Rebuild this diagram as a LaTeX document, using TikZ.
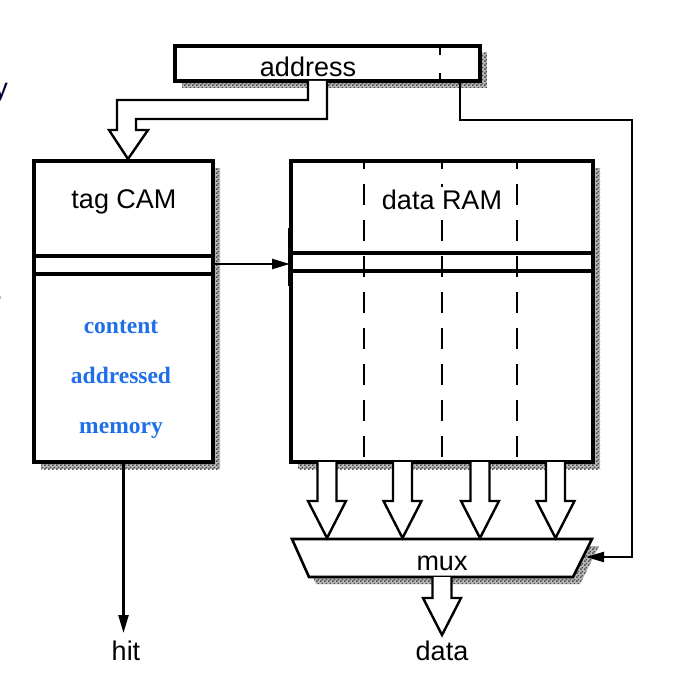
\documentclass[tikz,border=0pt]{standalone}
\usepackage{fontspec}
\setmainfont{Liberation Sans}
\newfontfamily\camserif{Liberation Serif}
\usetikzlibrary{arrows.meta,patterns.meta,calc}
\definecolor{camblue}{HTML}{1F6FEB}
\tikzdeclarepattern{name=stipple,type=uncolored,
  bottom left={(0pt,0pt)},top right={(4pt,4pt)},tile size={(4pt,4pt)},
  code={\fill (0pt,0pt) rectangle (1.9pt,1.9pt);
        \fill (2pt,2pt) rectangle (3.9pt,3.9pt);}}
\newcommand{\fatdown}[3]{%
  \draw[fatarrow] (#1-9.5,#2) -- (#1-9.5,#3-37) -- (#1-19,#3-37) -- (#1,#3) -- (#1+19,#3-37) -- (#1+9.5,#3-37) -- (#1+9.5,#2);}
\begin{document}
\begin{tikzpicture}[x=1pt,y=-1pt,
  box/.style={draw,line width=3.2pt,fill=white,inner sep=0pt,outer sep=0pt,anchor=north west},
  shade/.style={fill=black!28,postaction={pattern=stipple,pattern color=black!70}},
  wire/.style={line width=2.3pt},
  band/.style={line width=3.2pt},
  fatarrow/.style={draw,line width=2.4pt,fill=white,line join=miter},
  lbl/.style={font=\fontsize{27}{30}\selectfont,inner sep=0pt,anchor=base},
  note/.style={font=\camserif\bfseries\fontsize{23.5}{26}\selectfont,text=camblue,inner sep=0pt,anchor=base},
  tip/.style={-{Triangle[length=18pt,width=10pt]}},
  ramdash/.style={line width=2.4pt,dash pattern=on 21pt off 15pt,dash phase=14pt}]
\useasboundingbox (0,0) rectangle (672,682);
% clipped fragments at the left edge
\node[lbl,text=black!80!blue,anchor=base east] (fragy) at (8,98) {y};
\node[lbl,anchor=base east] (fragdot) at (3,299) {.};
% shadows
\path[shade] (182,53) rectangle (487,88);
\path[shade] (41,168) rectangle (220,469);
\path[shade] (298,168) rectangle (600,469);
\path[shade] (299,546) -- (599,546) -- (580,584) -- (316,584) -- cycle;
% address box
\node[box,minimum width=305pt,minimum height=35pt] (addr) at (175,46) {};
\node[lbl] (addrtxt) at (308,77) {address};
\draw[wire,dash pattern=on 9pt off 18pt] (440,46) -- (440,81);
% fat arrow address -> tag CAM
\draw[fatarrow] (308,81) -- (308,100) -- (117,100) -- (117,130) -- (109,130) -- (128,159) -- (148,130) -- (136,130) -- (136,119) -- (327,119) -- (327,81);
% tag CAM
\node[box,minimum width=179pt,minimum height=301pt] (cam) at (34,161) {};
\node[lbl] (camtxt) at (124,208) {tag CAM};
\draw[band] (cam.west |- 0,256) -- (cam.east |- 0,256);
\draw[band] (cam.west |- 0,274) -- (cam.east |- 0,274);
\node[note] (n1) at (121,333) {content};
\node[note] (n2) at (121,383) {addressed};
\node[note] (n3) at (121,433) {memory};
% data RAM
\node[box,minimum width=302pt,minimum height=301pt] (ram) at (291,161) {};
\draw[band] (ram.west |- 0,253) -- (ram.east |- 0,253);
\draw[band] (ram.west |- 0,271) -- (ram.east |- 0,271);
\foreach \xx in {364,442,517} \draw[ramdash] (\xx,162) -- (\xx,462);
\node[lbl,fill=white,inner xsep=5pt,inner ysep=2pt] (ramtxt) at (442,209) {data RAM};
% tag match arrow
\coordinate (hitrow) at (290,264);
\draw[band] (290,228) -- (290,286);
\draw[wire,tip] (cam.east |- hitrow) -- (hitrow);
% mux
\coordinate (m1) at (292,539);
\coordinate (m2) at (592,539);
\coordinate (m3) at (573,577);
\coordinate (m4) at (309,577);
\draw[line width=2.6pt,fill=white] (m1) -- (m2) -- (m3) -- (m4) -- cycle;
\node[lbl] (mux) at (442,570) {mux};
% data RAM -> mux fat arrows
\fatdown{327}{462}{538}
\fatdown{402.5}{462}{538}
\fatdown{480}{462}{538}
\fatdown{555.5}{462}{538}
% mux -> data
\fatdown{442}{577}{635}
% labels
\node[lbl] (hit) at (126,660) {hit};
\node[lbl] (data) at (442,660) {data};
\draw[wire,tip] (cam.south) -- (cam.south |- 0,633);
% address select to mux
\coordinate (sel) at (586,557);
\draw[wire,tip] (460,81) -- (460,120) -- (632,120) -- (632,557) -- (sel);
\end{tikzpicture}
\end{document}
